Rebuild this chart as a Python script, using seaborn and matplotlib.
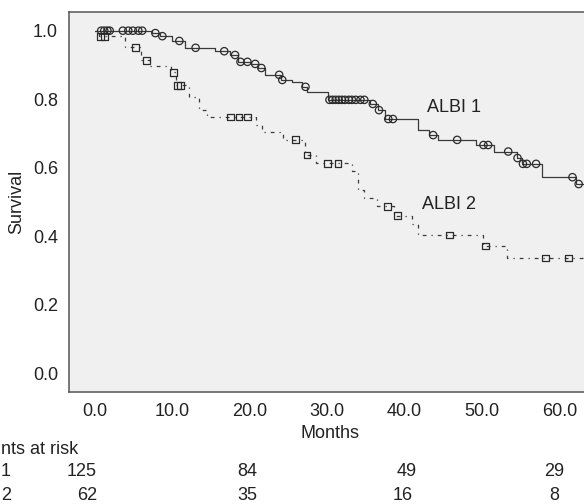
import numpy as np
import pandas as pd
import matplotlib
matplotlib.use("Agg")
import matplotlib.pyplot as plt
import seaborn as sns
from matplotlib.ticker import FormatStrFormatter
from matplotlib.transforms import blended_transform_factory

# ---------------- data ----------------
# ALBI 1: event times (months) and survival after each step
albi1_step_t = [7.4, 8.4, 9.9, 11.6, 15.5, 17.5, 18.5, 20.2, 21.1, 22.0, 24.1, 25.5,
                26.8, 27.4, 30.1, 35.5, 36.6, 37.5, 41.8, 43.2, 44.3, 49.2, 51.5,
                54.5, 55.2, 57.8, 62.1]
albi1_step_s = [0.993, 0.984, 0.970, 0.950, 0.940, 0.929, 0.909, 0.903, 0.891, 0.871,
                0.856, 0.850, 0.836, 0.822, 0.798, 0.786, 0.768, 0.742, 0.710, 0.695,
                0.681, 0.666, 0.647, 0.628, 0.611, 0.572, 0.552]
albi1_censor_t = [0.8, 1.2, 1.6, 1.9, 3.6, 4.3, 4.9, 5.6, 6.1, 7.8, 8.7, 10.9, 13.0,
                  16.7, 18.1, 18.8, 19.7, 20.7, 21.5, 23.8, 24.2, 27.2, 30.3, 30.7,
                  31.1, 31.5, 31.9, 32.3, 32.8, 33.2, 33.7, 34.3, 34.8, 35.9, 36.7,
                  37.9, 38.5, 43.7, 46.8, 50.2, 50.8, 53.4, 54.6, 55.3, 55.8, 57.0,
                  61.7, 62.5]

# ALBI 2
albi2_step_t = [0.5, 3.9, 6.0, 7.1, 9.8, 10.5, 12.2, 13.5, 14.5, 20.8, 21.6, 24.3,
                27.2, 28.5, 33.2, 34.0, 34.8, 36.5, 38.6, 41.0, 41.8, 50.2, 53.3]
albi2_step_s = [0.984, 0.952, 0.914, 0.897, 0.879, 0.841, 0.806, 0.768, 0.748, 0.724,
                0.704, 0.681, 0.637, 0.613, 0.590, 0.535, 0.511, 0.487, 0.459, 0.435,
                0.403, 0.371, 0.336]
albi2_censor_t = [0.7, 1.2, 5.2, 6.7, 10.1, 10.7, 11.0, 17.5, 18.6, 19.7, 25.9, 27.4,
                  30.0, 31.4, 37.8, 39.1, 45.8, 50.5, 58.2, 61.2]

follow_up_end = 65.0

groups = ["ALBI 1", "ALBI 2"]
# texts visible at the (cropped) left edge of the reference
risk_header = "nts at risk"
risk_row_labels = ["1", "2"]
risk_times = [0, 20, 40, 60]
risk_albi1 = [125, 84, 49, 29]
risk_albi2 = [62, 35, 16, 8]

x_ticks = [0, 10, 20, 30, 40, 50, 60]
y_ticks = [0.0, 0.2, 0.4, 0.6, 0.8, 1.0]


def curve(step_t, step_s, end):
    t = np.array([0.0] + list(step_t) + [end])
    s = np.array([1.0] + list(step_s) + [step_s[-1]])
    return pd.DataFrame({"Months": t, "Survival": s})


def at(df, times):
    idx = np.searchsorted(df["Months"].values, np.asarray(times), side="right") - 1
    return pd.DataFrame({"Months": times, "Survival": df["Survival"].values[idx]})


c1 = curve(albi1_step_t, albi1_step_s, follow_up_end)
c2 = curve(albi2_step_t, albi2_step_s, follow_up_end)
m1 = at(c1, albi1_censor_t)
m2 = at(c2, albi2_censor_t)

# ---------------- drawing ----------------
sns.set_style("white")
plt.rcParams["font.family"] = ["Liberation Sans", "DejaVu Sans"]

W, H = 584, 504
fig = plt.figure(figsize=(W / 100, H / 100), dpi=100)
ax_left, ax_bottom, ax_right, ax_top = 69, 392, 598, 12
ax = fig.add_axes([ax_left / W, 1 - ax_bottom / H,
                   (ax_right - ax_left) / W, (ax_bottom - ax_top) / H])
ax.set_facecolor("#f0f0f0")

line_col = "#3a3a3a"
sns.lineplot(data=c1, x="Months", y="Survival", ax=ax, drawstyle="steps-post",
             color=line_col, linewidth=0.9, estimator=None, sort=False)
sns.lineplot(data=c2, x="Months", y="Survival", ax=ax, drawstyle="steps-post",
             color=line_col, linewidth=0.9, estimator=None, sort=False,
             linestyle=(0, (1, 4, 3, 4)))
sns.scatterplot(data=m1, x="Months", y="Survival", ax=ax, marker="o", s=28,
                facecolor="none", edgecolor="#2a2a2a", linewidth=0.9, zorder=3)
sns.scatterplot(data=m2, x="Months", y="Survival", ax=ax, marker="s", s=24,
                facecolor="none", edgecolor="#2a2a2a", linewidth=0.9, zorder=3)

ax.set_xlim(-3.36, follow_up_end)
ax.set_ylim(-0.0555, 1.0546)
ax.set_xticks(x_ticks)
ax.set_yticks(y_ticks)
ax.xaxis.set_major_formatter(FormatStrFormatter("%.1f"))
ax.yaxis.set_major_formatter(FormatStrFormatter("%.1f"))
ax.tick_params(axis="both", which="major", length=4.5, width=1.0, color="#777777",
               labelsize=13, labelcolor="#222222", direction="out", pad=3.5)
ax.tick_params(axis="x", pad=3.5)
for side in ["left", "bottom", "top"]:
    ax.spines[side].set_visible(True)
    ax.spines[side].set_color("#555555")
    ax.spines[side].set_linewidth(1.1)
ax.spines["right"].set_visible(False)

ax.set_xlabel("Months", fontsize=13, color="#222222")
ax.set_ylabel("Survival", fontsize=13, color="#222222")
ax.xaxis.set_label_coords((330 - ax_left) / (ax_right - ax_left), -0.086)
ax.yaxis.set_label_coords((25 - ax_left) / (ax_right - ax_left), 0.5)

ax.text(46.4, 0.777, groups[0], fontsize=13, color="#222222", ha="center", va="center")
ax.text(45.7, 0.493, groups[1], fontsize=13, color="#222222", ha="center", va="center")

# numbers at risk
tr = blended_transform_factory(ax.transData, fig.transFigure)
fig.text(1 / W, 1 - 450 / H, risk_header, fontsize=13, color="#222222",
         ha="left", va="center")
row_y = [1 - 472 / H, 1 - 495 / H]
for lab, ry in zip(risk_row_labels, row_y):
    fig.text(1 / W, ry, lab, fontsize=13, color="#222222", ha="left", va="center")
offs1 = [-1.7, -0.3, 0.3, -0.6]
offs2 = [-1.0, -0.3, -0.3, -0.6]
for t, n, o in zip(risk_times, risk_albi1, offs1):
    ax.text(t + o, row_y[0], str(n), transform=tr, fontsize=13, color="#222222",
            ha="center", va="center", clip_on=False)
for t, n, o in zip(risk_times, risk_albi2, offs2):
    ax.text(t + o, row_y[1], str(n), transform=tr, fontsize=13, color="#222222",
            ha="center", va="center", clip_on=False)

fig.savefig("out.png", dpi=100)
